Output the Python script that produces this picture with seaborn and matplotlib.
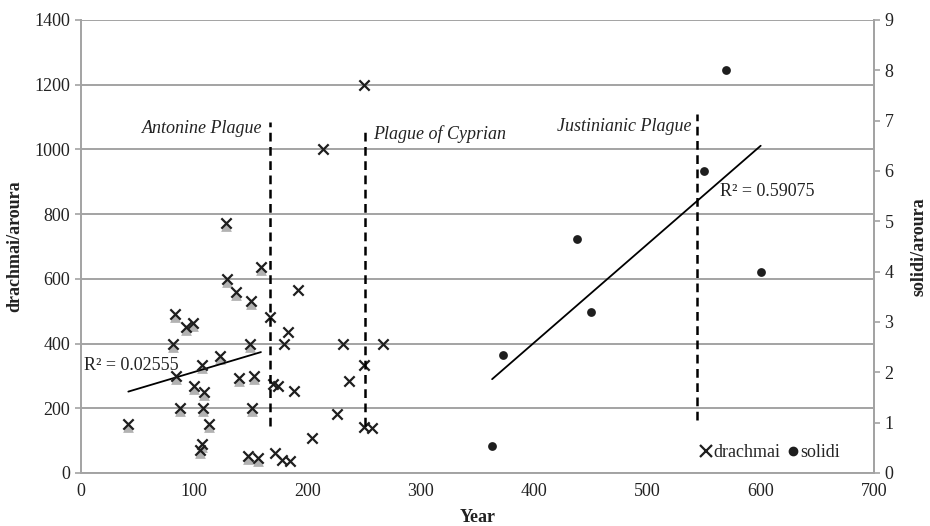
import numpy as np
import pandas as pd
import matplotlib
matplotlib.use("Agg")
import matplotlib.pyplot as plt
import matplotlib.transforms as mtransforms
from matplotlib.lines import Line2D
import seaborn as sns

# Land prices (drachmai per aroura), before the Antonine Plague
early_years = [42, 81, 83, 84, 88, 93, 99, 100, 105, 107, 107, 108, 109, 113,
               123, 128, 129, 137, 140, 148, 149, 150, 151, 153, 156, 159]
early_drachmai = [150, 400, 490, 300, 200, 450, 465, 270, 72, 90, 333, 200, 250, 150,
                  360, 773, 600, 558, 295, 52, 400, 533, 200, 300, 47, 636]

# Land prices (drachmai per aroura), after the Antonine Plague
late_years = [167, 170, 174, 171, 178, 179, 183, 185, 188, 192, 204, 214, 226,
              231, 237, 250, 250, 250, 257, 267]
late_drachmai = [482, 275, 268, 62, 41, 400, 437, 36, 252, 565, 109, 1000, 183,
                 400, 283, 1200, 335, 142, 140, 400]

# Land prices in gold (solidi per aroura)
solidi_years = [363, 373, 438, 450, 550, 569, 600]
solidi_values = [0.54, 2.35, 4.65, 3.2, 6.0, 8.0, 4.0]

# Plague markers: year, label, vertical extent (drachmai scale)
plague_years = [167, 251, 544]
plague_names = ["Antonine Plague", "Plague of Cyprian", "Justinianic Plague"]
plague_top = [1085, 1070, 1110]
plague_bottom = [145, 145, 163]

r2_early = "R\u00b2 = 0.02555"
r2_solidi = "R\u00b2 = 0.59075"

early = pd.DataFrame({"Year": early_years, "drachmai": early_drachmai})
late = pd.DataFrame({"Year": late_years, "drachmai": late_drachmai})
solidi = pd.DataFrame({"Year": solidi_years, "solidi": solidi_values})

sns.set_theme(style="white")
plt.rcParams["font.family"] = ["Liberation Serif", "DejaVu Serif"]

grey = "#a3a3a3"
ink = "#1e1e1e"
text_col = "#222222"

fig = plt.figure(figsize=(9.30, 5.26), dpi=100)
ax = fig.add_axes([0.0868, 0.1008, 0.9398 - 0.0868, 0.962 - 0.1008])
ax2 = ax.twinx()

ax.set_xlim(0, 700)
ax.set_ylim(0, 1400)
ax2.set_ylim(0, 9)
ax.set_xticks(range(0, 701, 100))
ax.set_yticks(range(0, 1401, 200))
ax2.set_yticks(range(0, 10))

ax.yaxis.grid(True, color=grey, lw=1.4)
ax.set_axisbelow(True)

for a in (ax, ax2):
    for side in ("left", "right", "bottom"):
        a.spines[side].set_color(grey)
        a.spines[side].set_linewidth(1.4)
    a.spines["top"].set_visible(False)
    a.tick_params(axis="both", colors=grey, labelcolor=text_col,
                  labelsize=13, length=4, width=1.2, direction="out")
ax2.spines["left"].set_visible(False)
ax2.spines["bottom"].set_visible(False)

# soft drop shadow under the early drachmai markers
shadow = mtransforms.offset_copy(ax.transData, fig=fig, x=0, y=-3, units="dots")
ax.scatter(early["Year"], early["drachmai"], marker="^", s=60, color="#999999",
           alpha=0.75, linewidths=0, transform=shadow, zorder=2)

sns.scatterplot(data=early, x="Year", y="drachmai", ax=ax, marker="x", s=55,
                color=ink, linewidth=1.6, zorder=3)
sns.scatterplot(data=late, x="Year", y="drachmai", ax=ax, marker="x", s=55,
                color=ink, linewidth=1.6, zorder=3)
sns.regplot(data=early, x="Year", y="drachmai", ax=ax, scatter=False, ci=None,
            truncate=True, line_kws=dict(color="black", lw=1.3))

ax.vlines(plague_years, plague_bottom, plague_top, colors="black",
          linestyles=(0, (3.5, 2.2)), lw=1.8, zorder=4)

ax.text(160, 1066, plague_names[0], ha="right", va="center", fontsize=13,
        fontstyle="italic", color=text_col)
ax.text(258, 1046, plague_names[1], ha="left", va="center", fontsize=13,
        fontstyle="italic", color=text_col)
ax.text(539, 1072, plague_names[2], ha="right", va="center", fontsize=13,
        fontstyle="italic", color=text_col)

ax.text(3, 332, r2_early, ha="left", va="center", fontsize=13, color=text_col)

sns.scatterplot(data=solidi, x="Year", y="solidi", ax=ax2, marker="o", s=40,
                color=ink, edgecolor=ink, linewidth=0, zorder=3)
sns.regplot(data=solidi, x="Year", y="solidi", ax=ax2, scatter=False, ci=None,
            truncate=True, line_kws=dict(color="black", lw=1.3))
ax2.text(564, 5.59, r2_solidi, ha="left", va="center", fontsize=13, color=text_col)

ax.set_xlabel("Year", fontsize=13, fontweight="bold", color=text_col, labelpad=6)
ax.set_ylabel("drachmai/aroura", fontsize=13, fontweight="bold", color=text_col,
              labelpad=8)
ax2.set_ylabel("solidi/aroura", fontsize=13, fontweight="bold", color=text_col,
               labelpad=12)

handles = [
    Line2D([], [], ls="none", marker="x", ms=8, mew=1.6, color=ink),
    Line2D([], [], ls="none", marker="o", ms=6, color=ink),
]
ax2.legend(handles, ["drachmai", "solidi"], loc="center right",
           bbox_to_anchor=(0.97, 0.045), ncol=2, frameon=False, fontsize=13,
           handlelength=0.6, handletextpad=0.1, columnspacing=0.4,
           borderpad=0.1)

fig.savefig("out.png", dpi=100)
